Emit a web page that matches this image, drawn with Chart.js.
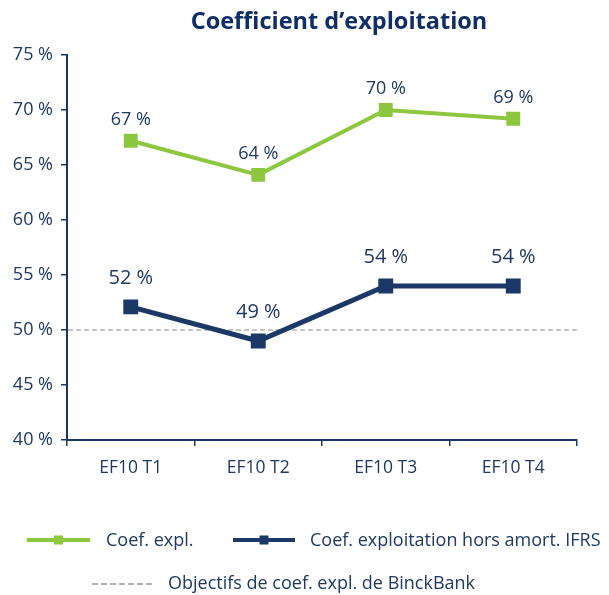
<!DOCTYPE html>
<html><head><meta charset="utf-8">
<script src="https://cdn.jsdelivr.net/npm/chart.js@4"></script>
<style>html,body{margin:0;padding:0;background:#fff;}#wrap{width:609px;height:595px;position:relative;}</style>
</head><body><div id="wrap"><canvas id="c" width="609" height="595"></canvas></div>
<script>
const categories = ["EF10 T1","EF10 T2","EF10 T3","EF10 T4"];
const coefExpl = [67.2, 64.1, 70.0, 69.2];
const coefExplLabels = ["67 %","64 %","70 %","69 %"];
const coefHorsAmort = [52.1, 49.0, 54.0, 54.0];
const coefHorsAmortLabels = ["52 %","49 %","54 %","54 %"];
const objectif = 50;
const seriesNames = ["Coef. expl.","Coef. exploitation hors amort. IFRS","Objectifs de coef. expl. de BinckBank"];
const titleText = "Coefficient d\u2019exploitation";

const NAVY = "#1b3866";
const GREEN = "#8dc63f";
const TEXT = "#1f3864";
const FONT = "'Open Sans', 'Noto Sans', sans-serif";

const targetLine = {
  id: 'targetLine',
  beforeDatasetsDraw(chart) {
    const {ctx, chartArea, scales} = chart;
    const y = scales.y.getPixelForValue(objectif);
    ctx.save();
    ctx.strokeStyle = "#b3b3b3";
    ctx.lineWidth = 1.5;
    ctx.setLineDash([5,3]);
    ctx.beginPath();
    ctx.moveTo(chartArea.left + 1, y);
    ctx.lineTo(chartArea.right + 2, y);
    ctx.stroke();
    ctx.restore();
  }
};

const labelsPlugin = {
  id: 'labelsPlugin',
  afterDatasetsDraw(chart) {
    const {ctx} = chart;
    ctx.save();
    ctx.fillStyle = TEXT;
    ctx.textAlign = 'center';
    ctx.textBaseline = 'middle';
    const m0 = chart.getDatasetMeta(0);
    ctx.font = "18px " + FONT;
    m0.data.forEach((p, i) => ctx.fillText(coefExplLabels[i], p.x, p.y - 21));
    const m1 = chart.getDatasetMeta(1);
    ctx.font = "20px " + FONT;
    m1.data.forEach((p, i) => ctx.fillText(coefHorsAmortLabels[i], p.x, p.y - 29));
    ctx.restore();
  }
};

const titleLegend = {
  id: 'titleLegend',
  afterDraw(chart) {
    const {ctx} = chart;
    ctx.save();
    ctx.fillStyle = "#0f2d66";
    ctx.textAlign = 'center';
    ctx.textBaseline = 'middle';
    ctx.font = "bold 23.5px " + FONT;
    ctx.fillText(titleText, 339, 22);
    // legend
    ctx.textAlign = 'left';
    ctx.font = "18px " + FONT;
    function lineKey(x1, x2, y, color, w) {
      ctx.strokeStyle = color; ctx.lineWidth = w; ctx.setLineDash([]);
      ctx.beginPath(); ctx.moveTo(x1, y); ctx.lineTo(x2, y); ctx.stroke();
      ctx.fillStyle = color; ctx.fillRect((x1+x2)/2 - 4.5, y - 4.5, 9, 9);
    }
    lineKey(27, 90, 540, GREEN, 4);
    ctx.fillStyle = TEXT; ctx.fillText(seriesNames[0], 106, 541);
    lineKey(233, 295, 540, NAVY, 4);
    ctx.fillStyle = TEXT; ctx.fillText(seriesNames[1], 310, 541);
    ctx.strokeStyle = "#b3b3b3"; ctx.lineWidth = 2; ctx.setLineDash([6,3]);
    ctx.beginPath(); ctx.moveTo(92, 584); ctx.lineTo(152, 584); ctx.stroke();
    ctx.setLineDash([]);
    ctx.fillStyle = TEXT; ctx.fillText(seriesNames[2], 168, 584);
    ctx.restore();
  }
};

new Chart(document.getElementById('c'), {
  type: 'line',
  data: {
    labels: categories,
    datasets: [
      { label: seriesNames[0], data: coefExpl, borderColor: GREEN, backgroundColor: GREEN,
        borderWidth: 4, pointStyle: 'rect', pointRadius: 7, pointHoverRadius: 7, tension: 0 },
      { label: seriesNames[1], data: coefHorsAmort, borderColor: NAVY, backgroundColor: NAVY,
        borderWidth: 5, pointStyle: 'rect', pointRadius: 7, pointHoverRadius: 7, tension: 0 }
    ]
  },
  options: {
    responsive: false,
    animation: false,
    layout: { padding: { top: 55, right: 32, bottom: 0, left: 0 } },
    plugins: { legend: { display: false }, title: { display: false }, tooltip: { enabled: false } },
    scales: {
      x: {
        offset: true,
        grid: { display: true, drawOnChartArea: false, drawTicks: true, tickLength: 6, color: NAVY, offset: true, lineWidth: 1.5 },
        border: { color: NAVY, width: 2 },
        ticks: { color: TEXT, font: { family: FONT, size: 17.5 }, padding: 12 },
        afterFit(s) { s.height = 155; }
      },
      y: {
        min: 40, max: 75,
        ticks: { stepSize: 5, color: TEXT, font: { family: FONT, size: 18 }, padding: 8,
          callback: v => v + " %" },
        grid: { display: true, drawOnChartArea: false, drawTicks: true, tickLength: 6, color: NAVY, lineWidth: 1.5 },
        border: { color: NAVY, width: 2 },
        afterFit(s) { s.width = 67; }
      }
    }
  },
  plugins: [targetLine, labelsPlugin, titleLegend]
});
</script></body></html>
